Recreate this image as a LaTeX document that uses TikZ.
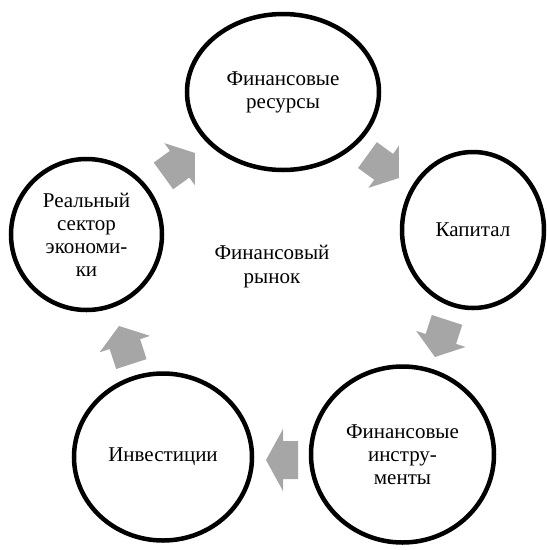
\documentclass[tikz,border=0pt]{standalone}
\usepackage{fontspec}
\setmainfont{Liberation Serif}
\usetikzlibrary{shapes.geometric}
\definecolor{arrowgray}{RGB}{166,166,166}
\tikzset{
  stage/.style={ellipse, draw=black, line width=4.5pt, inner sep=0pt, align=center,
    font=\fontsize{21}{23}\selectfont},
  centertext/.style={align=center, inner sep=0pt, font=\fontsize{21}{24}\selectfont},
  arrowfill/.style={fill=arrowgray},
}
% tip x, tip y, rotation, head length, head half-width, body length, body half-width
\newcommand{\cycarrow}[7]{%
  \fill[arrowfill, shift={(#1,#2)}, rotate=#3]
    (0,0) -- (-#4,#5) -- (-#4,#7) -- ({-#4-#6},#7) -- ({-#4-#6},-#7)
    -- (-#4,-#7) -- (-#4,-#5) -- cycle;}
\begin{document}
\begin{tikzpicture}[x=1pt,y=-1pt]
\useasboundingbox (0,0) rectangle (547,550);
\node[stage, minimum width=192pt, minimum height=156pt] (res) at (283,92) {Финансовые\\ресурсы};
\node[stage, minimum width=142pt, minimum height=156pt] (cap) at (473,230) {Капитал};
\node[stage, minimum width=183pt, minimum height=176pt] (instr) at (402.5,454.5) {Финансовые\\инстру-\\менты};
\node[stage, minimum width=178pt, minimum height=167pt] (inv) at (163,457) {Инвестиции};
\node[stage, minimum width=151pt, minimum height=151pt] (real) at (86.5,234.5) {Реальный\\сектор\\экономи-\\ки};
\node[centertext] (market) at (272,267) {Финансовый\\рынок};
\cycarrow{195}{153}{36}{19}{26}{20}{16.5}
\cycarrow{399}{178}{-36}{19}{26}{20}{16}
\cycarrow{435}{357}{-108}{19}{26}{20}{16}
\cycarrow{266}{460}{180}{17}{31}{15}{19}
\cycarrow{119}{326}{-252}{19}{26.5}{21}{16}
\end{tikzpicture}
\end{document}
